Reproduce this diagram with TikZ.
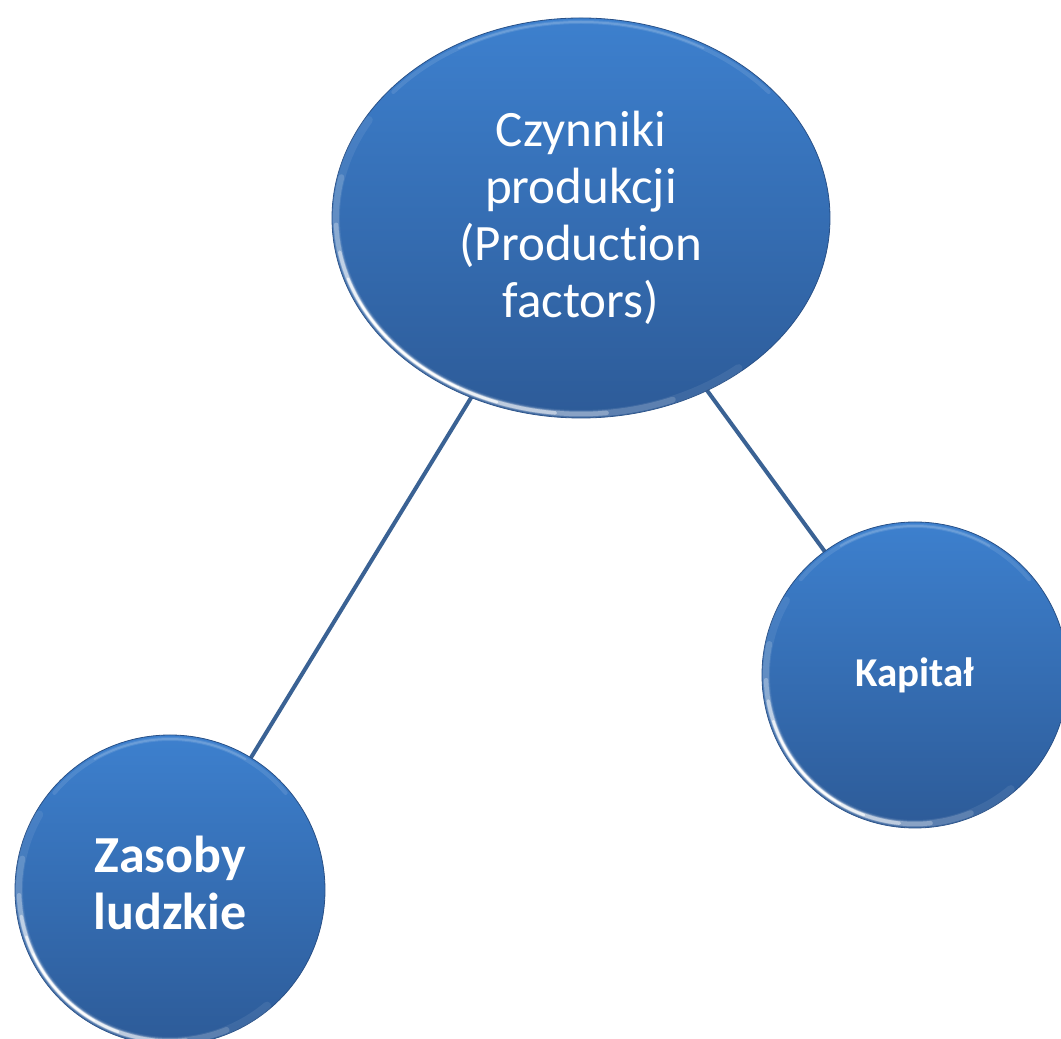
\documentclass[tikz,border=0pt]{standalone}
\usepackage{fontspec}
\setmainfont{Carlito}[Ligatures=NoCommon]
\usetikzlibrary{shapes.geometric}
\definecolor{ballTop}{RGB}{61,128,206}
\definecolor{ballBot}{RGB}{45,91,152}
\definecolor{rimDark}{RGB}{40,80,135}
\definecolor{linkBlue}{RGB}{58,98,148}
\tikzset{
  ball/.style={ellipse, inner sep=0pt, top color=ballTop, bottom color=ballBot,
    draw=rimDark, line width=0.8pt, text=white, align=center},
  link/.style={draw=linkBlue, line width=4pt},
}
% light bevel rim drawn just inside the edge of a ball
\newcommand\glint[3]{% centre, x radius, y radius
  \foreach \a/\b/\o/\w in {150/310/0.08/8, 168/292/0.16/6, 182/276/0.28/4.5,
                           190/264/0.45/3.4, 198/250/0.7/2.5, 205/240/0.95/1.6,
                           40/140/0.10/4, 60/120/0.15/2}{
    \draw[white, line width=\w pt, line cap=round, opacity=\o]
      (#1) ++(\a:#2 and #3) arc[start angle=\a, end angle=\b, x radius=#2, y radius=#3];
  }%
}
\begin{document}
\begin{tikzpicture}[x=1pt,y=1pt]
\useasboundingbox (0,0) rectangle (1061,1039);
\clip (0,0) rectangle (1061,1039);

\coordinate (cTop) at (581,821);
\coordinate (cCap) at (915,364);
\coordinate (cHum) at (170,149);

% connectors sit behind the balls
\path[link] (cTop) -- (cHum);
\path[link] (cTop) -- (cCap);

\node[ball, minimum width=498pt, minimum height=400pt,
      font=\fontsize{51}{57}\selectfont] (top) at (cTop)
  {Czynniki\\produkcji\\(Production\\factors)};
\node[ball, minimum width=306pt, minimum height=306pt,
      font=\fontsize{41}{48}\selectfont\bfseries] (cap) at (cCap)
  {\raisebox{-3pt}{Kapitał}};
\node[ball, minimum width=310pt, minimum height=310pt,
      font=\fontsize{52}{57}\selectfont\bfseries] (hum) at (cHum)
  {\raisebox{6pt}{\begin{tabular}{@{}c@{}}Zasoby\\ludzkie\end{tabular}}};

\glint{cTop}{245}{196}
\glint{cCap}{149}{149}
\glint{cHum}{151}{151}

\end{tikzpicture}
\end{document}
